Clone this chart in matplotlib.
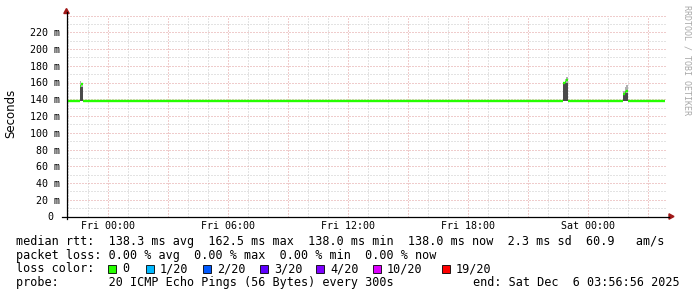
import matplotlib
matplotlib.use('Agg')
import matplotlib.pyplot as plt
import matplotlib.dates as mdates
from matplotlib.lines import Line2D
from matplotlib.patches import Polygon, Rectangle
from matplotlib.ticker import MultipleLocator, FuncFormatter
import numpy as np
import pandas as pd

# ---------------- data ----------------
end_time = pd.Timestamp('2025-12-06 03:56:56')
span_hours = 30
first_sample = pd.Timestamp('2025-12-04 21:55:00')
last_sample = pd.Timestamp('2025-12-06 03:45:00')
base_median = 138.0   # ms, flat median rtt

spike_start = ['2025-12-04 22:35', '2025-12-05 22:45', '2025-12-06 01:45']
spike_median = [[156.0, 158.0], [159.5, 161.0, 162.5], [146.0, 149.0, 150.0]]
spike_smoke_hi = [[155.0, 155.0], [160.0, 160.0, 160.0], [147.0, 149.0, 148.0]]
spike_smoke_top = [[162.0, 160.0], [161.0, 164.0, 166.0], [150.0, 155.0, 157.0]]

y_ticks = [0, 20, 40, 60, 80, 100, 120, 140, 160, 180, 200, 220]
y_labels = ['0 ', '20 m', '40 m', '60 m', '80 m', '100 m', '120 m', '140 m',
            '160 m', '180 m', '200 m', '220 m']

legend_lines = [
    'median rtt:  138.3 ms avg  162.5 ms max  138.0 ms min  138.0 ms now  2.3 ms sd  60.9   am/s',
    'packet loss: 0.00 % avg  0.00 % max  0.00 % min  0.00 % now',
]
loss_labels = ['0', '1/20', '2/20', '3/20', '4/20', '10/20', '19/20']
loss_colors = ['#26ff00', '#00b8ff', '#0059ff', '#5e00ff', '#7e00ff', '#dd00ff', '#ff0000']
probe_text = 'probe:       20 ICMP Echo Pings (56 Bytes) every 300s'
end_text = 'end: Sat Dec  6 03:56:56 2025'
watermark = 'RRDTOOL / TOBI OETIKER'

# ---------------- build series ----------------
times = pd.date_range(first_sample, last_sample, freq='5min')
median = np.full(len(times), base_median)
smoke_lo = np.full(len(times), np.nan)
smoke_hi = np.full(len(times), np.nan)
smoke_top = np.full(len(times), np.nan)
for st, med, hi, top in zip(spike_start, spike_median, spike_smoke_hi, spike_smoke_top):
    i0 = times.get_indexer([pd.Timestamp(st)], method='nearest')[0]
    for k in range(len(med)):
        median[i0 + k] = med[k]
        smoke_lo[i0 + k] = base_median
        smoke_hi[i0 + k] = hi[k]
        smoke_top[i0 + k] = top[k]

W, H = 697, 297
fig = plt.figure(figsize=(W / 100, H / 100), dpi=100)
fig.patch.set_facecolor('white')

def fx(px):
    return px / W

def fy(py):
    return 1 - py / H

ax_l, ax_r, ax_b, ax_t = 67, 667, 216.5, 15.5
ax = fig.add_axes([fx(ax_l), fy(ax_b), (ax_r - ax_l) / W, (ax_b - ax_t) / H])
ax.set_facecolor('white')

start_time = end_time - pd.Timedelta(hours=span_hours)
ax.set_xlim(mdates.date2num(start_time), mdates.date2num(end_time))
ax.set_ylim(0, 240)

# grid
ax.xaxis.set_major_locator(mdates.HourLocator(byhour=range(0, 24, 3)))
ax.xaxis.set_minor_locator(mdates.HourLocator())
ax.xaxis.set_major_formatter(FuncFormatter(
    lambda v, p: mdates.num2date(v).strftime('%a %H:%M') if mdates.num2date(v).hour % 6 == 0 else ''))
ax.yaxis.set_major_locator(MultipleLocator(20))
ax.yaxis.set_minor_locator(MultipleLocator(10))
lab = dict(zip(y_ticks, y_labels))
ax.yaxis.set_major_formatter(FuncFormatter(lambda v, p: lab.get(int(round(v)), '')))

ax.grid(which='minor', color='#c8c8c8', linestyle=(0, (1, 2)), linewidth=0.72)
ax.grid(which='major', color='#e09a9a', linestyle=(0, (1, 2)), linewidth=0.72)
ax.set_axisbelow(True)
for s in ax.spines.values():
    s.set_visible(False)
ax.tick_params(which='both', length=0)
ax.tick_params(axis='y', pad=5.0, labelsize=7.2)
ax.tick_params(axis='x', pad=3.5, labelsize=7.2)
for t in ax.get_xticklabels() + ax.get_yticklabels():
    t.set_family('DejaVu Sans Mono')

# smoke
tnum = mdates.date2num(times)
wd = 5 / 1440
ok = ~np.isnan(smoke_lo)
ax.bar(tnum[ok], smoke_hi[ok] - smoke_lo[ok], bottom=smoke_lo[ok], width=wd,
       align='edge', color='#4a4a4a', linewidth=0, zorder=3)
ax.bar(tnum[ok], smoke_top[ok] - smoke_hi[ok], bottom=smoke_hi[ok], width=wd,
       align='edge', color='#b0b0b0', linewidth=0, zorder=3)
# median line (colour = loss 0)
ax.hlines(median, tnum, tnum + wd, color=loss_colors[0], linewidth=1.7, zorder=4)

# axes lines with arrows
axis_col = '#000000'
arrow_col = '#a01818'
fig.add_artist(Line2D([fx(66.5), fx(66.5)], [fy(218.5), fy(12)], color=axis_col, lw=0.9))
fig.add_artist(Line2D([fx(62), fx(669)], [fy(216.5), fy(216.5)], color=axis_col, lw=0.9))
fig.add_artist(Polygon([[fx(63.8), fy(13.5)], [fx(69.2), fy(13.5)], [fx(66.5), fy(8.5)]],
                       closed=True, color=arrow_col, transform=fig.transFigure))
fig.add_artist(Polygon([[fx(669), fy(213.8)], [fx(669), fy(219.2)], [fx(674), fy(216.5)]],
                       closed=True, color=arrow_col, transform=fig.transFigure))

# y label
fig.text(fx(11), fy(113), 'Seconds', rotation=90, ha='center', va='center',
         family='DejaVu Sans', fontsize=8.5)

# watermark
fig.text(fx(687), fy(5), watermark, rotation=-90, ha='center', va='top',
         family='DejaVu Sans Mono', fontsize=6, color='#a8a8a8')

# legend
mono = dict(family='DejaVu Sans Mono', fontsize=8.5, va='baseline')
x0 = 16.5
fig.text(fx(x0), fy(245), legend_lines[0], **mono)
fig.text(fx(x0), fy(258.5), legend_lines[1], **mono)
fig.text(fx(x0), fy(272), 'loss color:', **mono)
box_x = [108, 146, 203, 260, 316, 373, 442]
for bx, lbl, c in zip(box_x, loss_labels, loss_colors):
    fig.add_artist(Rectangle((fx(bx), fy(273)), 8 / W, 8.5 / H, facecolor=c,
                             edgecolor='black', linewidth=0.6, transform=fig.transFigure))
    fig.text(fx(bx + 14), fy(272), lbl, **mono)
fig.text(fx(x0), fy(286), probe_text, **mono)
fig.text(fx(680), fy(286), end_text, ha='right', family='DejaVu Sans Mono', fontsize=8.5,
         va='baseline')

fig.savefig('out.png', dpi=100, facecolor='white')
